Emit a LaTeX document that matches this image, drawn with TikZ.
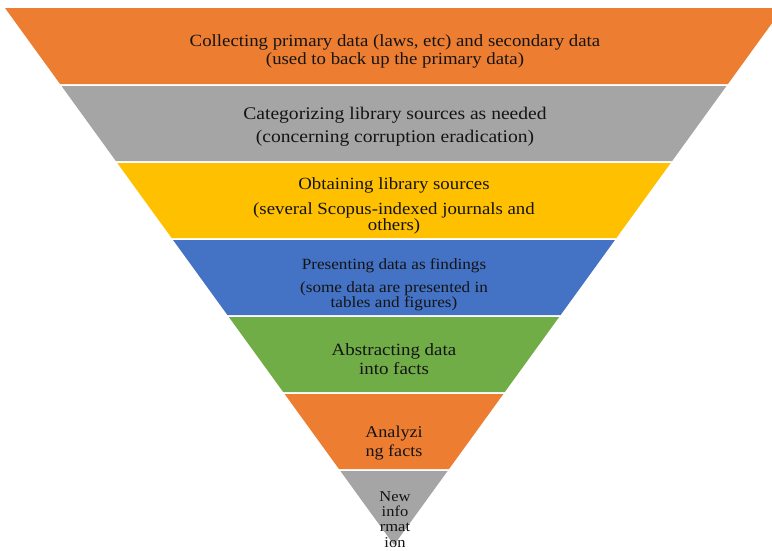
\documentclass[tikz,border=0pt]{standalone}
\usepackage{fontspec}
\setmainfont[FakeStretch=1.1]{Liberation Serif}
\definecolor{borange}{HTML}{ED7D31}
\definecolor{bgray}{HTML}{A5A5A5}
\definecolor{byellow}{HTML}{FFC000}
\definecolor{bblue}{HTML}{4472C4}
\definecolor{bgreen}{HTML}{70AD47}
\definecolor{btext}{HTML}{141414}
\tikzset{
  bandtext/.style={align=center, text=btext, inner sep=0pt},
}
\newcommand{\xl}[1]{5+0.7244*(#1-8)}
\newcommand{\xr}[1]{783-0.7244*(#1-8)}
\begin{document}
\begin{tikzpicture}[x=1pt,y=-1pt]
\useasboundingbox (0,0) rectangle (772,550);
\clip (0,0) rectangle (772,550);
\foreach \ya/\yb/\col in {8/84/borange, 86/161/bgray, 163/238/byellow, 240/315/bblue, 317/392/bgreen, 394/469/borange}{
  \fill[\col] ({\xl{\ya}},\ya) -- ({\xr{\ya}},\ya) -- ({\xr{\yb}},\yb) -- ({\xl{\yb}},\yb) -- cycle;
}
\fill[bgray] ({\xl{471}},471) -- ({\xr{471}},471) -- (394,545) -- cycle;
\node[bandtext, font=\fontsize{17.1}{18}\selectfont] (b1) at (395,51)
  {Collecting primary data (laws, etc) and secondary data\\(used to back up the primary data)};
\node[bandtext, font=\fontsize{17.8}{23}\selectfont] (b2) at (395,126.5)
  {Categorizing library sources as needed\\(concerning corruption eradication)};
\node[bandtext, font=\fontsize{17.1}{16}\selectfont] (b3) at (394,205.5)
  {Obtaining library sources\\[9pt](several Scopus-indexed journals and\\others)};
\node[bandtext, font=\fontsize{15.6}{14}\selectfont] (b4) at (394,284.5)
  {Presenting data as findings\\[8pt](some data are presented in\\tables and figures)};
\node[bandtext, font=\fontsize{17.2}{19}\selectfont] (b5) at (394,359.5)
  {Abstracting data\\into facts};
\node[bandtext, font=\fontsize{16.5}{19}\selectfont] (b6) at (394,443.5)
  {Analyzi\\ng facts};
\node[bandtext, font=\fontsize{15}{15.3}\selectfont] (b7) at (395,519.5)
  {New\\info\\rmat\\ion};
\end{tikzpicture}
\end{document}
